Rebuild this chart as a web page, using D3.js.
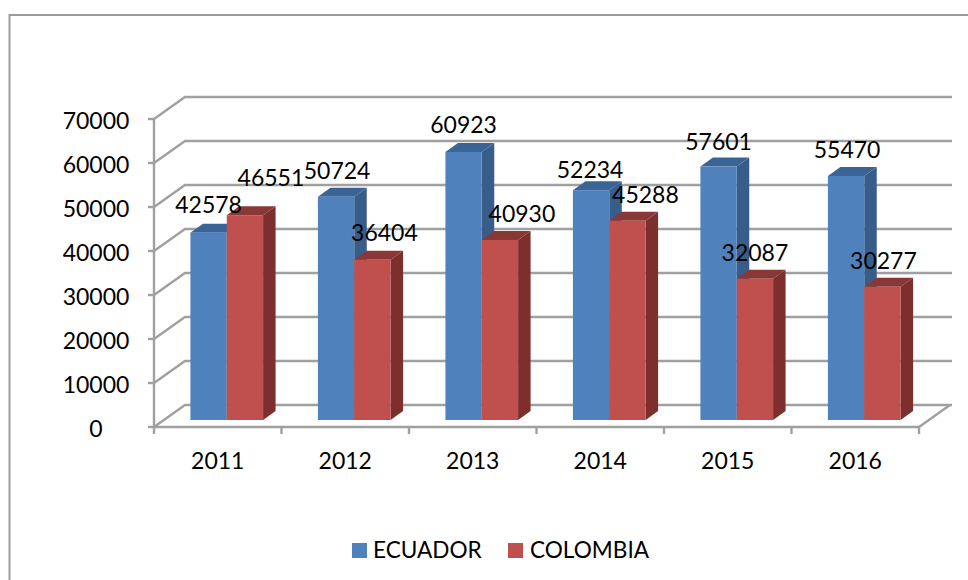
<!DOCTYPE html>
<html><head><meta charset="utf-8">
<script src="https://cdn.jsdelivr.net/npm/d3@7"></script>
<style>html,body{margin:0;background:#fff}svg{display:block}text{font-family:Lato,"Open Sans",sans-serif;fill:#000}</style>
</head><body><svg id="c" width="968" height="580"></svg>
<script>
const categories = ["2011","2012","2013","2014","2015","2016"];
const ecuador = [42578,50724,60923,52234,57601,55470];
const colombia = [46551,36404,40930,45288,32087,30277];
const seriesNames = ["ECUADOR","COLOMBIA"];
const tickValues = [0,10000,20000,30000,40000,50000,60000,70000];
const ecuadorNudge = [[0,-2],[1,0],[0,-1],[-1,6],[0,1],[1,0]];
const colombiaNudge = [[26,-11],[12,-1],[22,0],[18,0],[0,0],[1,0]];

const svg = d3.select("#c");
const grey = "#a0a0a0";
const frontX = [154,919], frontY = [427,119];
const depth = {x:31,y:-22};
const barPlane = {x:9,y:-7};
const cols = {
  ECUADOR:{face:"#4f81bd",side:"#385d8a",top:"#3b6496"},
  COLOMBIA:{face:"#c0504d",side:"#7d2f2d",top:"#8a3836"}
};
const x = d3.scaleBand().domain(categories).range(frontX).paddingInner(0.43).paddingOuter(0.215);
const y = d3.scaleLinear().domain([0,70000]).range(frontY);
const barW = x.bandwidth()/2;
const bdx = 12.5, bdy = -9;

// frame
svg.append("rect").attr("x",9.5).attr("y",15).attr("width",980).attr("height",600)
  .attr("fill","none").attr("stroke","#9b9b9b").attr("stroke-width",2);

// walls
const gl = svg.append("g").attr("fill","none").attr("stroke",grey).attr("stroke-width",2.4);
tickValues.forEach(v=>{
  gl.append("path").attr("d",`M${frontX[0]},${y(v)}l${depth.x},${depth.y}H${frontX[1]+depth.x+2}`);
});
gl.append("path").attr("d",`M${frontX[1]},${frontY[0]}l${depth.x},${depth.y}`);
gl.append("path").attr("d",`M${frontX[0]},${frontY[0]}V${frontY[1]}`);
gl.append("path").attr("d",`M${frontX[0]},${frontY[0]}H${frontX[1]}`);
tickValues.forEach(v=>gl.append("path").attr("d",`M${frontX[0]-6},${y(v)}H${frontX[0]}`));
d3.range(categories.length+1).forEach(i=>{
  const px = frontX[0]+i*(frontX[1]-frontX[0])/categories.length;
  gl.append("path").attr("d",`M${px},${frontY[0]}v7`);
});

// bars
function bar(g,x0,v,c){
  const b = y(v)+barPlane.y, base = y(0)+barPlane.y;
  g.append("path").attr("fill",c.side).attr("d",`M${x0+barW},${base}V${b}l${bdx},${bdy}V${base+bdy}Z`);
  g.append("path").attr("fill",c.top).attr("d",`M${x0},${b}l${bdx},${bdy}H${x0+barW+bdx}l${-bdx},${-bdy}Z`);
  g.append("rect").attr("fill",c.face).attr("x",x0).attr("y",b).attr("width",barW).attr("height",base-b);
}
const bars = svg.append("g");
categories.forEach((cat,i)=>{
  const x0 = x(cat)+barPlane.x;
  bar(bars,x0,ecuador[i],cols.ECUADOR);
  bar(bars,x0+barW,colombia[i],cols.COLOMBIA);
});

// axis text
const fs = 23;
svg.append("g").selectAll("text").data(tickValues).join("text")
  .attr("x",frontX[0]-58).attr("y",d=>y(d)+10).attr("text-anchor","middle")
  .attr("font-size",fs).text(d=>d);
svg.append("g").selectAll("text").data(categories).join("text")
  .attr("x",d=>x(d)+barW).attr("y",469).attr("text-anchor","middle").attr("font-size",fs).text(d=>d);

// data labels
const lab = svg.append("g").attr("text-anchor","middle").attr("font-size",fs);
categories.forEach((cat,i)=>{
  const x0 = x(cat)+barPlane.x;
  lab.append("text").attr("x",x0+barW/2+ecuadorNudge[i][0]).attr("y",y(ecuador[i])+barPlane.y-18+ecuadorNudge[i][1]).text(ecuador[i]);
  lab.append("text").attr("x",x0+barW*1.5+colombiaNudge[i][0]).attr("y",y(colombia[i])+barPlane.y-18+colombiaNudge[i][1]).text(colombia[i]);
});

// legend
const lg = svg.append("g");
[[352,373],[508,530]].forEach(([sx,tx],i)=>{
  const n = seriesNames[i];
  lg.append("rect").attr("x",sx).attr("y",543).attr("width",15).attr("height",15).attr("fill",cols[n].face);
  lg.append("text").attr("x",tx).attr("y",558).attr("font-size",22.6).text(n);
});
</script></body></html>
